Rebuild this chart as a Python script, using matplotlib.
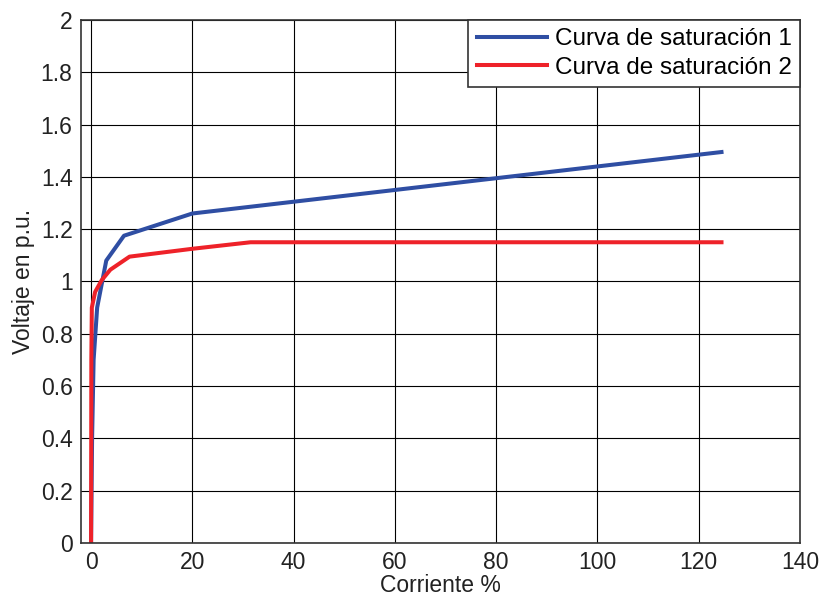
import matplotlib
matplotlib.use("Agg")
import matplotlib.pyplot as plt

plt.rcParams['font.family'] = ['Liberation Sans', 'DejaVu Sans']

curve1_x = [0, 0.2, 0.5, 1.2, 3.0, 6.5, 20.0, 124.5]
curve1_y = [0, 0.4, 0.7, 0.9, 1.08, 1.175, 1.26, 1.495]
curve2_x = [0, 0.05, 0.15, 0.8, 2.1, 3.8, 7.6, 20.0, 31.5, 124.5]
curve2_y = [0, 0.7, 0.9, 0.96, 1.005, 1.045, 1.095, 1.125, 1.15, 1.15]
labels = ['Curva de saturación 1', 'Curva de saturación 2']
xticks = [0, 20, 40, 60, 80, 100, 120, 140]
yticks = [0, 0.2, 0.4, 0.6, 0.8, 1, 1.2, 1.4, 1.6, 1.8, 2]

fs = 16.5
fig = plt.figure(figsize=(8.26, 5.98), dpi=100)
ax = fig.add_axes([0.098, 0.092, 0.8705, 0.8746])
ax.plot(curve1_x, curve1_y, color='#2f4ea3', lw=2.9, label=labels[0], solid_joinstyle='round')
ax.plot(curve2_x, curve2_y, color='#ee2229', lw=2.9, label=labels[1], solid_joinstyle='round')
ax.set_xlim(-2, 140)
ax.set_ylim(0, 2)
ax.set_xticks(xticks)
ax.set_yticks(yticks)
ax.set_yticklabels([f'{v:g}' for v in yticks])
ax.grid(True, color='black', lw=0.8)
ax.set_axisbelow(True)
ax.tick_params(labelsize=fs, direction='in', length=0, colors='#222222', pad=6)
for s in ax.spines.values():
    s.set_color('#333333')
    s.set_linewidth(1.2)
ax.set_xlabel('Corriente %', fontsize=fs, color='#222222', labelpad=0)
ax.set_ylabel('Voltaje en p.u.', fontsize=fs, color='#222222', labelpad=4)
leg = ax.legend(loc='upper right', fontsize=17.5, fancybox=False, framealpha=1,
                edgecolor='#333333', borderaxespad=0, handlelength=2.9, handletextpad=0.3,
                borderpad=0.35, labelspacing=0.25)
leg.get_frame().set_linewidth(1.2)
fig.savefig('out.png', dpi=100)
